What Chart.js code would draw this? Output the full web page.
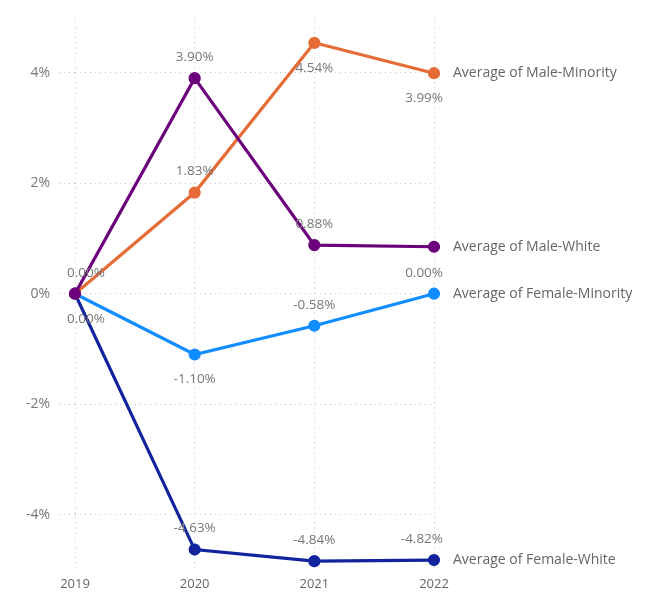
<!DOCTYPE html>
<html>
<head>
<meta charset="utf-8">
<script src="https://cdn.jsdelivr.net/npm/chart.js@4/dist/chart.umd.min.js"></script>
<style>
  html, body { margin: 0; padding: 0; background: #fff; }
  #wrap { width: 658px; height: 595px; }
</style>
</head>
<body>
<div id="wrap"><canvas id="chart"></canvas></div>
<script>
// data
const years = ['2019', '2020', '2021', '2022'];
const maleMinority = [0, 1.83, 4.54, 3.99];
const maleWhite = [0, 3.90, 0.88, 0.85];
const femaleMinority = [0, -1.10, -0.58, 0.00];
const femaleWhite = [0, -4.63, -4.84, -4.82];
const yTicks = [-4, -2, 0, 2, 4];

// where each value label sits: 'a' above, 'b' below, '' none
const posMaleMinority = ['a', 'a', 'b', 'b'];
const posMaleWhite = ['', 'a', 'a', ''];
const posFemaleMinority = ['b', 'b', 'a', 'a'];
const posFemaleWhite = ['', 'a', 'a', 'a'];

const FONT = '"Open Sans", "Noto Sans", sans-serif';

const series = [
  { label: 'Average of Male-White', data: maleWhite, color: '#6B007B', pos: posMaleWhite },
  { label: 'Average of Male-Minority', data: maleMinority, color: '#E66C37', pos: posMaleMinority },
  { label: 'Average of Female-Minority', data: femaleMinority, color: '#118DFF', pos: posFemaleMinority },
  { label: 'Average of Female-White', data: femaleWhite, color: '#12239E', pos: posFemaleWhite }
];

const labelPlugin = {
  id: 'labels',
  afterDatasetsDraw(chart) {
    const ctx = chart.ctx;
    ctx.save();
    ctx.textBaseline = 'middle';
    chart.data.datasets.forEach((ds, i) => {
      const meta = chart.getDatasetMeta(i);
      // value labels
      ctx.font = '13.5px ' + FONT;
      ctx.fillStyle = '#777';
      ctx.textAlign = 'left';
      meta.data.forEach((pt, j) => {
        const p = ds.pos[j];
        if (!p) return;
        const txt = ds.data[j].toFixed(2) + '%';
        const w = ctx.measureText(txt).width;
        let x = pt.x - w / 2;
        x = Math.max(67, Math.min(x, 443 - w));
        const y = p === 'a' ? pt.y - 21 : pt.y + 25;
        ctx.fillText(txt, x, y);
      });
      // series name at the end of the line
      const last = meta.data[meta.data.length - 1];
      ctx.font = '14px ' + FONT;
      ctx.fillStyle = '#666';
      ctx.fillText(ds.label, last.x + 19, last.y);
    });
    ctx.restore();
  }
};

new Chart(document.getElementById('chart'), {
  type: 'line',
  data: {
    labels: years,
    datasets: series.map((s, i) => ({
      label: s.label,
      data: s.data,
      pos: s.pos,
      borderColor: s.color,
      backgroundColor: s.color,
      borderWidth: 3.2,
      pointRadius: 4.5,
      pointHoverRadius: 4.5,
      tension: 0,
      order: i
    }))
  },
  options: {
    responsive: true,
    maintainAspectRatio: false,
    animation: false,
    layout: { padding: { top: 16, right: 224, left: 0, bottom: 0 } },
    plugins: {
      legend: { display: false },
      tooltip: { enabled: false }
    },
    scales: {
      x: {
        offset: false,
        afterFit(scale) { scale.height = 25; },
        border: { display: false, dash: [1, 4] },
        grid: { color: '#c4c4c4', drawTicks: false, lineWidth: 1 },
        ticks: { color: '#666', font: { family: FONT, size: 13 }, padding: 6, maxRotation: 0 }
      },
      y: {
        min: -5,
        max: 5,
        afterFit(scale) { scale.width = 75; },
        afterBuildTicks(scale) { scale.ticks = yTicks.map(v => ({ value: v })); },
        border: { display: false, dash: [1, 4] },
        grid: { color: '#c4c4c4', tickLength: 16, tickColor: '#c4c4c4', tickBorderDash: [1, 4], lineWidth: 1 },
        ticks: {
          color: '#777',
          font: { family: FONT, size: 14 },
          padding: 9,
          callback: v => v + '%'
        }
      }
    }
  },
  plugins: [labelPlugin]
});
</script>
</body>
</html>
